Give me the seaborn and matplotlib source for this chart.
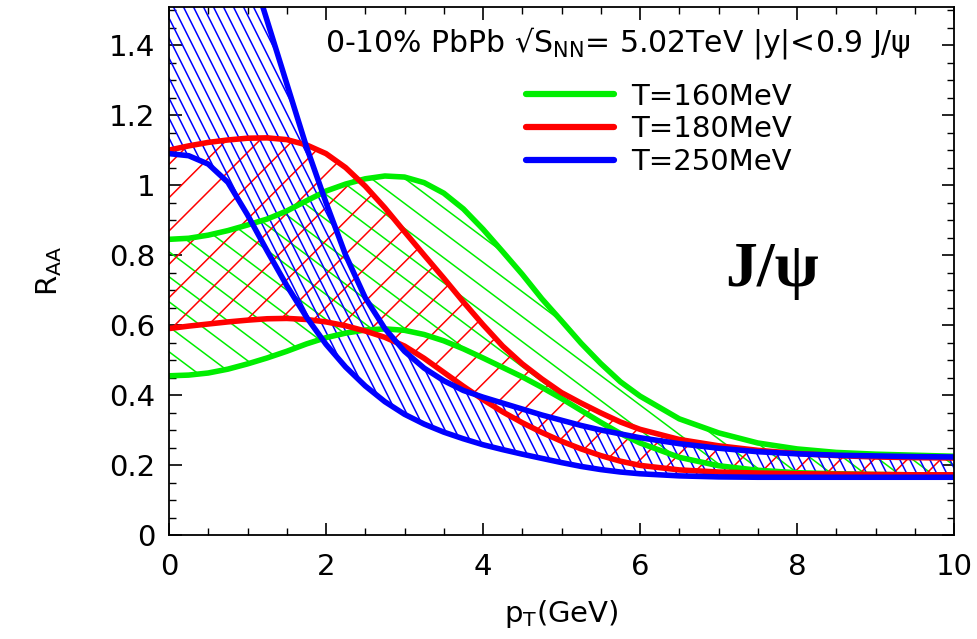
import warnings
import numpy as np
import pandas as pd
import matplotlib
matplotlib.use("Agg")
import matplotlib.pyplot as plt
import seaborn as sns
from matplotlib import hatch as mhatch
from matplotlib.path import Path
from matplotlib.lines import Line2D
from matplotlib.ticker import MultipleLocator

warnings.filterwarnings("ignore")

# ---------------- data ----------------
pt = [0, 0.25, 0.5, 0.75, 1.0, 1.25, 1.5, 1.75, 2.0, 2.25, 2.5, 2.75, 3.0, 3.25,
      3.5, 3.75, 4.0, 4.25, 4.5, 4.75, 5.0, 5.25, 5.5, 5.75, 6.0, 6.5, 7.0, 7.5,
      8.0, 8.5, 9.0, 9.5, 10.0]

g_hi = [0.845, 0.848, 0.857, 0.87, 0.886, 0.903, 0.926, 0.955, 0.983, 1.003, 1.018,
        1.026, 1.023, 1.007, 0.977, 0.932, 0.874, 0.81, 0.745, 0.675, 0.612, 0.548,
        0.49, 0.438, 0.397, 0.332, 0.292, 0.263, 0.246, 0.236, 0.231, 0.228, 0.225]
g_lo = [0.455, 0.457, 0.463, 0.474, 0.489, 0.506, 0.525, 0.546, 0.564, 0.577, 0.586,
        0.589, 0.585, 0.573, 0.555, 0.532, 0.506, 0.479, 0.452, 0.422, 0.39, 0.356,
        0.322, 0.29, 0.263, 0.222, 0.198, 0.185, 0.178, 0.175, 0.173, 0.172, 0.171]
r_hi = [1.10, 1.112, 1.122, 1.129, 1.134, 1.135, 1.13, 1.115, 1.09, 1.05, 0.997,
        0.935, 0.867, 0.8, 0.734, 0.666, 0.601, 0.54, 0.489, 0.446, 0.407, 0.377,
        0.349, 0.323, 0.302, 0.273, 0.255, 0.242, 0.233, 0.227, 0.223, 0.221, 0.22]
r_lo = [0.59, 0.597, 0.603, 0.609, 0.614, 0.618, 0.619, 0.616, 0.609, 0.598, 0.583,
        0.565, 0.54, 0.505, 0.465, 0.425, 0.387, 0.352, 0.321, 0.293, 0.268, 0.246,
        0.227, 0.211, 0.199, 0.186, 0.18, 0.177, 0.175, 0.174, 0.173, 0.172, 0.172]
b_hi = [2.3, 2.15, 1.99, 1.83, 1.65, 1.47, 1.29, 1.11, 0.95, 0.8, 0.678, 0.59,
        0.525, 0.477, 0.441, 0.413, 0.394, 0.377, 0.36, 0.343, 0.328, 0.313, 0.3,
        0.289, 0.278, 0.261, 0.248, 0.238, 0.232, 0.228, 0.226, 0.224, 0.223]
b_lo = [1.09, 1.084, 1.06, 1.008, 0.915, 0.812, 0.713, 0.623, 0.545, 0.48, 0.426,
        0.381, 0.345, 0.317, 0.294, 0.275, 0.258, 0.244, 0.231, 0.219, 0.207, 0.196,
        0.187, 0.18, 0.175, 0.169, 0.166, 0.165, 0.165, 0.165, 0.165, 0.165, 0.165]

labels = ["T=160MeV", "T=180MeV", "T=250MeV"]
colors = ["#00ee00", "#ff0000", "#0000ff"]
hatches = ["g", "/", "b"]
bands = [(g_hi, g_lo), (r_hi, r_lo), (b_hi, b_lo)]


# back-slash hatches with custom slope: lines x + m*y = c, n lines per tile
class _SlopedHatch(mhatch.HatchPatternBase):
    char = "b"
    n_per = 10
    m = 0.5

    def __init__(self, hatch, density):
        self.n = hatch.count(self.char) * self.n_per
        self.num_lines = int(round(self.n * (1 + self.m))) + 1 if self.n else 0
        self.num_vertices = self.num_lines * 2

    def set_vertices_and_codes(self, vertices, codes):
        cs = np.arange(self.num_lines) / self.n
        vertices[0::2, 0] = cs
        vertices[0::2, 1] = 0.0
        vertices[1::2, 0] = cs - self.m
        vertices[1::2, 1] = 1.0
        codes[0::2] = Path.MOVETO
        codes[1::2] = Path.LINETO


class SteepHatch(_SlopedHatch):      # blue band, about 63 degrees
    char, n_per, m = "b", 10, 0.5


class ShallowHatch(_SlopedHatch):    # green band, about 40 degrees
    char, n_per, m = "g", 3, 4 / 3


mhatch._hatch_types.extend([SteepHatch, ShallowHatch])

# ---------------- style ----------------
sns.set_theme(style="ticks")
plt.rcParams["font.family"] = ["DejaVu Sans"]
plt.rcParams["hatch.linewidth"] = 1.1
plt.rcParams["axes.linewidth"] = 1.3
plt.rcParams["text.color"] = "black"
plt.rcParams["axes.labelcolor"] = "black"
plt.rcParams["xtick.color"] = "black"
plt.rcParams["ytick.color"] = "black"

fig = plt.figure(figsize=(9.78, 6.39), dpi=100)
ax = fig.add_axes([169 / 978, 1 - 535 / 639, 785 / 978, 528 / 639])

for (hi, lo), c, h in zip(bands, colors, hatches):
    ax.fill_between(pt, lo, hi, facecolor="none", edgecolor=c, hatch=h, linewidth=0)
    df = pd.DataFrame({"pt": pt, "hi": hi, "lo": lo})
    sns.lineplot(data=df, x="pt", y="hi", color=c, lw=4, ax=ax, legend=False)
    sns.lineplot(data=df, x="pt", y="lo", color=c, lw=4, ax=ax, legend=False)

ax.set_xlim(0, 10)
ax.set_ylim(0, 1.509)
ax.xaxis.set_minor_locator(MultipleLocator(0.5))
ax.yaxis.set_minor_locator(MultipleLocator(0.05))
ax.set_yticks([0, 0.2, 0.4, 0.6, 0.8, 1.0, 1.2, 1.4])
ax.set_yticklabels(["0", "0.2", "0.4", "0.6", "0.8", "1", "1.2", "1.4"])
ax.set_xticks([0, 2, 4, 6, 8, 10])
ax.set_xticklabels(["0", "2", "4", "6", "8", "10"])
ax.tick_params(which="both", direction="in", top=True, right=True, color="black")
ax.tick_params(which="major", length=9, width=1.2, labelsize=21, labelcolor="black")
ax.tick_params(which="minor", length=5, width=1.0)
ax.tick_params(axis="x", which="major", pad=13)
ax.tick_params(axis="y", which="major", pad=10)
for s in ax.spines.values():
    s.set_color("black")

ax.set_xlabel("p$_{\\mathrm{T}}$(GeV)", fontsize=21, labelpad=12)
ax.set_ylabel("R$_{\\mathrm{AA}}$", fontsize=21, labelpad=32)

ax.text(0.199, 0.932, "0-10% PbPb √S$_{\\mathrm{NN}}$= 5.02TeV |y|<0.9 J/ψ",
        transform=ax.transAxes, fontsize=21.5, va="center", ha="left")
ax.text(0.768, 0.50, "J/ψ", transform=ax.transAxes, fontsize=46,
        fontweight="bold", family=["Liberation Serif", "DejaVu Serif"],
        va="center", ha="center")

handles = [Line2D([0], [0], color=c, lw=4.5) for c in colors]
ax.legend(handles, labels, loc="upper left", bbox_to_anchor=(0.455, 0.857),
          frameon=False, fontsize=21, handlelength=3.0, handletextpad=0.6,
          labelspacing=0.17, borderpad=0, borderaxespad=0)

fig.savefig("out.png", dpi=100)
